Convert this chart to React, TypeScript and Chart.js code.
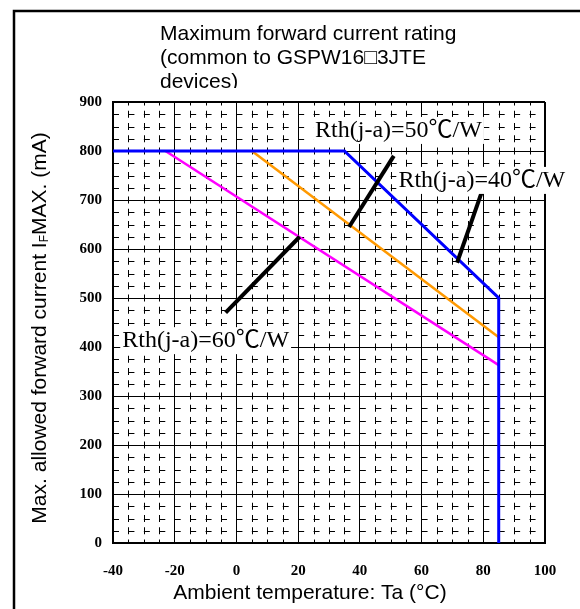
import React, { useEffect, useRef } from 'react';
import { Chart, registerables } from 'chart.js';

Chart.register(...registerables);

// ---------- text ----------
const TITLE_LINES = ['Maximum forward current rating', '(common to GSPW16\u25A13JTE', 'devices)'];
const X_TITLE = 'Ambient temperature: Ta (\u00B0C)';
const Y_TITLE_MAIN = 'Max. allowed forward current I';
const Y_TITLE_SUB = 'F';
const Y_TITLE_REST = 'MAX. (mA)';

// ---------- axes ----------
const X_MIN = -40;
const X_MAX = 100;
const X_TICKS = [-40, -20, 0, 20, 40, 60, 80, 100];
const X_MINOR_STEP = 5;
const Y_MIN = 0;
const Y_MAX = 900;
const Y_TICKS = [0, 100, 200, 300, 400, 500, 600, 700, 800, 900];
const Y_MINOR_STEP = 25;

// ---------- series ----------
// Rth(j-a)=40 C/W (blue)
const rth40T = [-40, 35, 85, 85];
const rth40I = [800, 800, 500, 0];
// Rth(j-a)=50 C/W (orange)
const rth50T = [5, 85];
const rth50I = [800, 420];
// Rth(j-a)=60 C/W (magenta)
const rth60T = [-23, 85];
const rth60I = [800, 363];

// pointer lines from labels to curves
const ptr60T = [-3.5, 20.5];
const ptr60I = [470, 625];
const ptr50T = [36.5, 51];
const ptr50I = [645, 790];
const ptr40T = [71.5, 79.5];
const ptr40I = [572, 716];

// annotation labels
const LABEL_TEXTS = ['Rth(j-a)=60\u2103/W', 'Rth(j-a)=50\u2103/W', 'Rth(j-a)=40\u2103/W'];
const LABEL_T = [-37, 25.5, 52.5];
const LABEL_I = [414, 843, 741];

const pts = (xs: number[], ys: number[]) => xs.map((x, i) => ({ x, y: ys[i] }));

const SANS = '"Liberation Sans", Arial, sans-serif';
const SERIF = '"Liberation Serif", "Times New Roman", serif';

const backgroundPlugin = {
  id: 'bgFrame',
  beforeDraw(chart: any) {
    const { ctx, width, height } = chart;
    ctx.save();
    ctx.fillStyle = '#fff';
    ctx.fillRect(0, 0, width, height);
    ctx.strokeStyle = '#000';
    ctx.lineWidth = 2.5;
    ctx.beginPath();
    ctx.moveTo(14, height + 5);
    ctx.lineTo(14, 11);
    ctx.lineTo(width + 5, 11);
    ctx.stroke();
    ctx.restore();
  },
};

const minorGridPlugin = {
  id: 'minorGrid',
  beforeDatasetsDraw(chart: any) {
    const { ctx, chartArea: a, scales } = chart;
    const xs = scales.x;
    const ys = scales.y;
    ctx.save();
    ctx.beginPath();
    ctx.rect(a.left, a.top, a.right - a.left, a.bottom - a.top);
    ctx.clip();
    ctx.strokeStyle = '#000';
    ctx.lineWidth = 1;
    const dx = Math.abs(xs.getPixelForValue(X_MIN + X_MINOR_STEP) - xs.getPixelForValue(X_MIN));
    const dy = Math.abs(ys.getPixelForValue(Y_MIN + Y_MINOR_STEP) - ys.getPixelForValue(Y_MIN));
    // vertical minor lines
    ctx.setLineDash([7, dy - 7]);
    for (let v = X_MIN + X_MINOR_STEP; v < X_MAX; v += X_MINOR_STEP) {
      if (X_TICKS.includes(v)) continue;
      const px = Math.round(xs.getPixelForValue(v)) + 0.5;
      ctx.lineDashOffset = 3.5;
      ctx.beginPath();
      ctx.moveTo(px, a.bottom);
      ctx.lineTo(px, a.top);
      ctx.stroke();
    }
    // horizontal minor lines
    ctx.setLineDash([6, dx - 6]);
    for (let v = Y_MIN + Y_MINOR_STEP; v < Y_MAX; v += Y_MINOR_STEP) {
      if (Y_TICKS.includes(v)) continue;
      const py = Math.round(ys.getPixelForValue(v)) + 0.5;
      ctx.lineDashOffset = 0;
      ctx.beginPath();
      ctx.moveTo(a.left, py);
      ctx.lineTo(a.right, py);
      ctx.stroke();
    }
    ctx.restore();
  },
};

const textPlugin = {
  id: 'texts',
  afterDraw(chart: any) {
    const { ctx, scales } = chart;
    const xs = scales.x;
    const ys = scales.y;
    ctx.save();
    // annotation labels with white boxes
    ctx.font = '24px "Liberation Serif", "Noto Sans CJK JP", serif';
    ctx.textBaseline = 'middle';
    ctx.textAlign = 'left';
    LABEL_TEXTS.forEach((t, i) => {
      const px = xs.getPixelForValue(LABEL_T[i]);
      const py = ys.getPixelForValue(LABEL_I[i]);
      const w = ctx.measureText(t).width;
      ctx.fillStyle = '#fff';
      ctx.fillRect(px - 2, py - 13, w + 4, 27);
      ctx.fillStyle = '#000';
      ctx.fillText(t, px, py + 1);
    });

    // main title (clipped at bottom like the reference)
    ctx.save();
    ctx.beginPath();
    ctx.rect(0, 0, chart.width, 88);
    ctx.clip();
    ctx.font = `21px ${SANS}`;
    ctx.fillStyle = '#000';
    ctx.textBaseline = 'middle';
    TITLE_LINES.forEach((l, i) => ctx.fillText(l, 160, 34 + i * 24));
    ctx.restore();

    // x axis title
    ctx.font = `21px ${SANS}`;
    ctx.textAlign = 'center';
    ctx.textBaseline = 'middle';
    ctx.fillStyle = '#000';
    ctx.fillText(X_TITLE, 310, 593);

    // y axis title with subscript
    ctx.translate(40, 328);
    ctx.rotate(-Math.PI / 2);
    ctx.textAlign = 'left';
    const mainFont = `21px ${SANS}`;
    const subFont = `12px ${SANS}`;
    ctx.font = mainFont;
    const w1 = ctx.measureText(Y_TITLE_MAIN).width;
    const w3 = ctx.measureText(Y_TITLE_REST).width;
    ctx.font = subFont;
    const w2 = ctx.measureText(Y_TITLE_SUB).width;
    let cx = -(w1 + w2 + w3) / 2;
    ctx.font = mainFont;
    ctx.fillText(Y_TITLE_MAIN, cx, 0);
    cx += w1;
    ctx.font = subFont;
    ctx.fillText(Y_TITLE_SUB, cx, 5);
    cx += w2;
    ctx.font = mainFont;
    ctx.fillText(Y_TITLE_REST, cx, 0);
    ctx.restore();
  },
};

export default function App() {
  const ref = useRef<HTMLCanvasElement>(null);
  useEffect(() => {
    if (!ref.current) return;
    const chart = new Chart(ref.current, {
      type: 'line',
      data: {
        datasets: [
          { data: pts(ptr40T, ptr40I), borderColor: '#000', borderWidth: 4, pointRadius: 0 },
          { data: pts(ptr50T, ptr50I), borderColor: '#000', borderWidth: 4, pointRadius: 0 },
          { data: pts(ptr60T, ptr60I), borderColor: '#000', borderWidth: 4, pointRadius: 0 },
          { data: pts(rth40T, rth40I), borderColor: '#0000FF', borderWidth: 3, pointRadius: 0 },
          { data: pts(rth50T, rth50I), borderColor: '#FF9900', borderWidth: 2.5, pointRadius: 0 },
          { data: pts(rth60T, rth60I), borderColor: '#FF00FF', borderWidth: 2.5, pointRadius: 0 },
        ],
      },
      options: {
        animation: false,
        responsive: false,
        maintainAspectRatio: false,
        devicePixelRatio: 1,
        layout: { padding: { top: 102, right: 35, left: 0, bottom: 0 } },
        plugins: {
          legend: { display: false },
          tooltip: { enabled: false },
          title: { display: false },
        },
        elements: { line: { tension: 0 } },
        scales: {
          x: {
            type: 'linear',
            min: X_MIN,
            max: X_MAX,
            afterBuildTicks: (s: any) => {
              s.ticks = X_TICKS.map((v) => ({ value: v }));
            },
            afterFit: (s: any) => {
              s.height = 66;
            },
            ticks: {
              font: { family: SERIF, size: 15, weight: 'bold' },
              color: '#000',
              padding: 19,
              maxRotation: 0,
              autoSkip: false,
            },
            grid: {
              color: '#000',
              lineWidth: (c: any) => (c.tick && c.tick.value === X_MAX ? 2 : 1),
              drawTicks: false,
            },
            border: { display: true, color: '#000', width: 2 },
          },
          y: {
            type: 'linear',
            min: Y_MIN,
            max: Y_MAX,
            afterBuildTicks: (s: any) => {
              s.ticks = Y_TICKS.map((v) => ({ value: v }));
            },
            afterFit: (s: any) => {
              s.width = 113;
            },
            ticks: {
              font: { family: SERIF, size: 15, weight: 'bold' },
              color: '#000',
              padding: 11,
              autoSkip: false,
            },
            grid: {
              color: '#000',
              lineWidth: (c: any) => (c.tick && c.tick.value === Y_MAX ? 2 : 1),
              drawTicks: false,
            },
            border: { display: true, color: '#000', width: 2 },
          },
        },
      },
      plugins: [backgroundPlugin, minorGridPlugin, textPlugin],
    } as any);
    return () => chart.destroy();
  }, []);
  return (
    <div style={{ position: 'absolute', left: 0, top: 0, width: 580, height: 609 }}>
      <canvas ref={ref} width={580} height={609} style={{ display: 'block', width: 580, height: 609 }} />
    </div>
  );
}
